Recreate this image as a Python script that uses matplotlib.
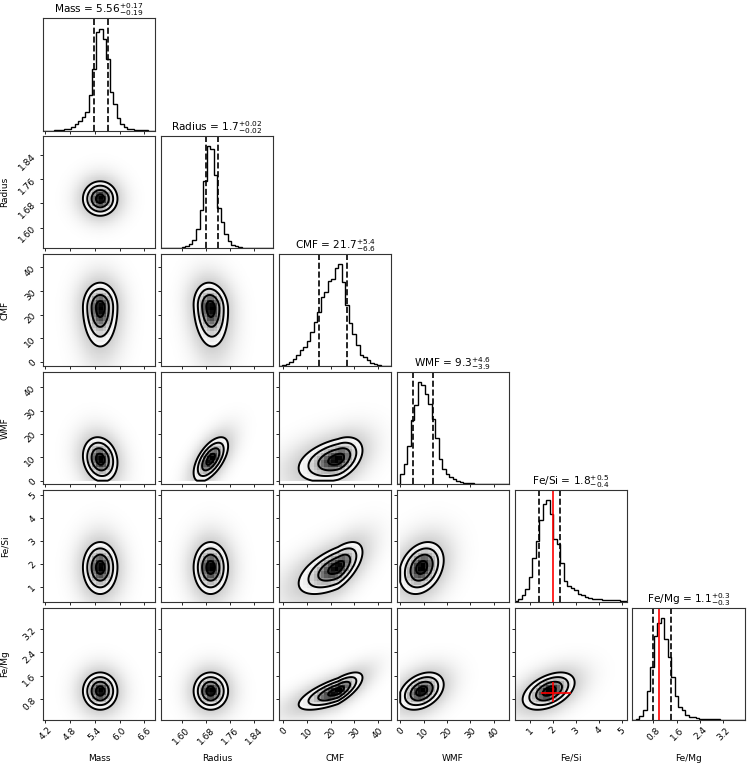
import numpy as np
import matplotlib.pyplot as plt
from matplotlib.colors import LinearSegmentedColormap

# parameters shown in the corner plot
names = ["Mass", "Radius", "CMF", "WMF", "Fe/Si", "Fe/Mg"]
title_med = ["5.56", "1.7", "21.7", "9.3", "1.8", "1.1"]
title_hi = ["0.17", "0.02", "5.4", "4.6", "0.5", "0.3"]
title_lo = ["0.19", "0.02", "6.6", "3.9", "0.4", "0.3"]
medians = [5.56, 1.70, 21.7, 9.3, 1.8, 1.1]
err_hi = [0.17, 0.02, 5.4, 4.6, 0.5, 0.3]
err_lo = [0.19, 0.02, 6.6, 3.9, 0.4, 0.3]

# axis ranges and ticks
ranges = [(4.14, 6.87), (1.531, 1.902), (-1.9, 45.6), (-1.5, 46.5), (0.34, 5.22), (0.08, 3.93)]
ticks = [[4.2, 4.8, 5.4, 6.0, 6.6],
         [1.60, 1.68, 1.76, 1.84],
         [0, 10, 20, 30, 40],
         [0, 10, 20, 30, 40],
         [1, 2, 3, 4, 5],
         [0.8, 1.6, 2.4, 3.2]]
tick_labels = [["4.2", "4.8", "5.4", "6.0", "6.6"],
               ["1.60", "1.68", "1.76", "1.84"],
               ["0", "10", "20", "30", "40"],
               ["0", "10", "20", "30", "40"],
               ["1", "2", "3", "4", "5"],
               ["0.8", "1.6", "2.4", "3.2"]]

# 1D histograms (32 bins over each range, relative heights)
hist_mass = [0, 0, 0, 0.003, 0.005, 0.008, 0.012, 0.02, 0.035, 0.06, 0.09, 0.13, 0.18, 0.35, 0.60, 0.97,
             1.0, 0.90, 0.70, 0.38, 0.26, 0.12, 0.06, 0.035, 0.02, 0.012, 0.008, 0.005, 0.003, 0.001, 0, 0]
hist_radius = [0, 0, 0, 0, 0.002, 0.005, 0.01, 0.02, 0.04, 0.08, 0.19, 0.38, 0.66, 1.0, 0.97, 0.72,
               0.40, 0.26, 0.14, 0.07, 0.035, 0.02, 0.01, 0.006, 0.004, 0.003, 0.002, 0.001, 0, 0, 0, 0]
hist_cmf = [0.003, 0.01, 0.025, 0.04, 0.075, 0.11, 0.16, 0.19, 0.25, 0.34, 0.43, 0.53, 0.68, 0.73, 0.84, 0.86,
            0.96, 1.0, 0.83, 0.60, 0.42, 0.32, 0.21, 0.11, 0.09, 0.06, 0.03, 0.02, 0.01, 0.005, 0.002, 0]
hist_wmf = [0, 0.10, 0.20, 0.37, 0.63, 0.78, 1.0, 0.97, 0.88, 0.79, 0.64, 0.45, 0.25, 0.15, 0.10, 0.07,
            0.05, 0.03, 0.02, 0.015, 0.01, 0.008, 0.005, 0.003, 0.002, 0.002, 0.001, 0.001, 0.001, 0, 0, 0]
hist_fesi = [0.01, 0.035, 0.07, 0.13, 0.25, 0.43, 0.60, 0.80, 0.96, 1.0, 0.86, 0.62, 0.57, 0.38, 0.21, 0.16,
             0.14, 0.12, 0.08, 0.07, 0.05, 0.04, 0.035, 0.03, 0.03, 0.025, 0.02, 0.02, 0.025, 0.02, 0.015, 0.01]
hist_femg = [0, 0.01, 0.04, 0.10, 0.28, 0.52, 0.82, 0.95, 1.0, 0.79, 0.62, 0.42, 0.23, 0.13, 0.10, 0.05,
             0.03, 0.025, 0.016, 0.012, 0.01, 0.008, 0.007, 0.006, 0.005, 0.004, 0.003, 0.002, 0.002, 0.001, 0.001, 0]
hists = [hist_mass, hist_radius, hist_cmf, hist_wmf, hist_fesi, hist_femg]

# 2D shapes: mode, lower / upper spread, lower bound
modes = [5.53, 1.695, 23.1, 9.2, 1.85, 1.07]
sig_lo = [0.21, 0.028, 8.3, 4.8, 0.58, 0.32]
sig_hi = [0.21, 0.029, 5.2, 4.7, 0.55, 0.32]
lower_bound = [None, None, None, 0.0, None, None]
corr = [[1.0, 0.0, 0.0, -0.15, 0.0, 0.0],
        [0.0, 1.0, -0.1, 0.6, 0.0, 0.0],
        [0.0, -0.1, 1.0, 0.4, 0.6, 0.72],
        [-0.15, 0.6, 0.4, 1.0, 0.28, 0.35],
        [0.0, 0.0, 0.6, 0.28, 1.0, 0.45],
        [0.0, 0.0, 0.72, 0.35, 0.45, 1.0]]

# reference values drawn in red
truth_fesi = 2.0
truth_femg = 1.0
truth_fesi_err = [0.52, 0.78]
truth_femg_err = [0.29, 0.39]

nb = 32
n = len(names)


def latent(vals, k):
    d = vals - modes[k]
    return np.where(d < 0, d / sig_lo[k], d / sig_hi[k])


def mahal2(X, Y, i, j):
    u = latent(X, j)
    v = latent(Y, i)
    rho = corr[i][j]
    r2 = (u ** 2 - 2 * rho * u * v + v ** 2) / (1 - rho ** 2)
    if lower_bound[j] is not None:
        r2 = np.where(X < lower_bound[j], 99.0, r2)
    if lower_bound[i] is not None:
        r2 = np.where(Y < lower_bound[i], 99.0, r2)
    return r2


density_cmap = LinearSegmentedColormap.from_list("density", [(0, 0, 0, 1), (1, 1, 1, 0)])
halo_cmap = LinearSegmentedColormap.from_list("halo", [(0, 0, 0, 0), (0, 0, 0, 1)])

fig, axes = plt.subplots(n, n, figsize=(7.47, 7.63), dpi=100)
fig.subplots_adjust(left=0.0576, right=0.997, bottom=0.0564, top=0.976, wspace=0.05, hspace=0.05)

fs_tick = 6.5
fs_label = 6.5
fs_title = 7.6

for i in range(n):
    for j in range(n):
        ax = axes[i, j]
        if j > i:
            ax.set_axis_off()
            continue
        ax.tick_params(direction="out", length=2.5, width=0.6, labelsize=fs_tick, pad=1.5)
        for s in ax.spines.values():
            s.set_linewidth(0.8)
            s.set_color("#333333")
        if i == j:
            edges = np.linspace(ranges[i][0], ranges[i][1], nb + 1)
            h = np.array(hists[i])
            ax.stairs(h, edges, color="k", lw=1.0)
            lo_q = medians[i] - err_lo[i]
            hi_q = medians[i] + err_hi[i]
            ax.axvline(lo_q, color="k", ls="--", lw=1.2)
            ax.axvline(hi_q, color="k", ls="--", lw=1.2)
            ax.set_ylim(0, 1.1 * h.max())
            ax.set_yticks([])
            ax.set_title(names[i] + " = $" + title_med[i] + "^{+" + title_hi[i] + "}_{-" + title_lo[i] + "}$",
                         fontsize=fs_title, pad=0.2)
            if names[i] == "Fe/Si":
                ax.axvline(truth_fesi, color="red", lw=1.2)
            if names[i] == "Fe/Mg":
                ax.axvline(truth_femg, color="red", lw=1.2)
        else:
            xr, yr = ranges[j], ranges[i]
            # fine grid for halo, mask and contour lines
            xf = np.linspace(xr[0], xr[1], 160)
            yf = np.linspace(yr[0], yr[1], 160)
            Xf, Yf = np.meshgrid(xf, yf)
            r2f = mahal2(Xf, Yf, i, j)
            halo = np.where(r2f < 99, 0.2 * np.exp(-0.17 * np.clip(r2f - 4, 0, None)), 0.0)
            ax.pcolormesh(Xf, Yf, halo, cmap=halo_cmap, vmin=0, vmax=1, shading="auto")
            ax.contourf(Xf, Yf, r2f, levels=[0, 4], colors="white", antialiased=False)
            # coarse density cells like the binned 2D histogram
            ex = np.linspace(xr[0], xr[1], nb + 1)
            ey = np.linspace(yr[0], yr[1], nb + 1)
            cx = 0.5 * (ex[1:] + ex[:-1])
            cy = 0.5 * (ey[1:] + ey[:-1])
            CX, CY = np.meshgrid(cx, cy)
            H = np.exp(-0.5 * mahal2(CX, CY, i, j))
            H = H / H.max()
            ax.pcolormesh(ex, ey, 1 - H, cmap=density_cmap, vmin=0, vmax=1)
            ax.contour(Xf, Yf, np.sqrt(r2f), levels=[0.5, 1.0, 1.5, 2.0], colors="k", linewidths=1.4)
            if names[j] == "Fe/Si" and names[i] == "Fe/Mg":
                ax.errorbar([truth_fesi], [truth_femg],
                            xerr=[[truth_fesi_err[0]], [truth_fesi_err[1]]],
                            yerr=[[truth_femg_err[0]], [truth_femg_err[1]]],
                            color="red", lw=1.2, capsize=0)
            ax.set_ylim(yr)
            ax.set_yticks(ticks[i])
            if j == 0:
                ax.set_yticklabels(tick_labels[i], rotation=45)
                ax.set_ylabel(names[i], fontsize=fs_label)
                ax.yaxis.set_label_coords(-0.3, 0.5)
            else:
                ax.set_yticklabels([])
        ax.set_xlim(ranges[j])
        ax.set_xticks(ticks[j])
        if i == n - 1:
            ax.set_xticklabels(tick_labels[j], rotation=45)
            ax.set_xlabel(names[j], fontsize=fs_label)
            ax.xaxis.set_label_coords(0.5, -0.3)
        else:
            ax.set_xticklabels([])

fig.savefig("out.png", dpi=100)
